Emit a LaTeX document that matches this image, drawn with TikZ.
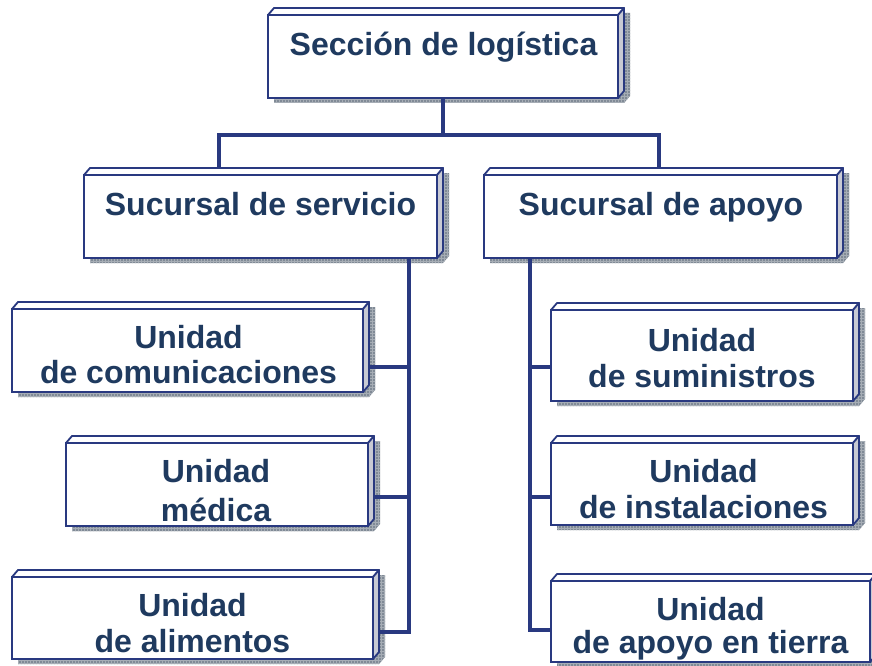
\documentclass[tikz,border=0pt]{standalone}
\usepackage{fontspec}
\setmainfont{Liberation Sans}
\usetikzlibrary{calc,patterns}
\definecolor{navy}{RGB}{41,57,128}
\definecolor{txtc}{RGB}{31,58,95}
\definecolor{sidec}{RGB}{200,202,212}
\definecolor{shadc}{RGB}{128,138,150}
\pgfdeclarelayer{bg}
\pgfdeclarelayer{mid}
\pgfsetlayers{bg,mid,main}
\tikzset{
  conn/.style={draw=navy, line width=4pt},
  frontbox/.style={draw=navy, fill=white, line width=1.8pt, rectangle, inner sep=0pt},
  facebox/.style={draw=navy, line width=1.8pt, line join=round},
  txt/.style={font=\fontsize{32}{37}\selectfont\bfseries, text=txtc, inner sep=0pt, anchor=base},
}
\newcommand\cubebox[5]{%
  \begin{pgfonlayer}{bg}
    \fill[shadc] ({#2+6},{#3+5}) -- ({#2+12},{#3-2}) -- ({#4+12},{#3-2}) -- ({#4+12},{#5-2}) -- ({#4+6},{#5+5}) -- ({#2+6},{#5+5}) -- cycle;
    \fill[pattern=grid, pattern color=white!30!shadc] ({#2+6},{#3+5}) -- ({#2+12},{#3-2}) -- ({#4+12},{#3-2}) -- ({#4+12},{#5-2}) -- ({#4+6},{#5+5}) -- ({#2+6},{#5+5}) -- cycle;
  \end{pgfonlayer}
  \filldraw[facebox, fill=white] (#2,#3) -- ({#2+6},{#3-7}) -- ({#4+6},{#3-7}) -- (#4,#3) -- cycle;
  \filldraw[facebox, fill=sidec] (#4,#3) -- ({#4+6},{#3-7}) -- ({#4+6},{#5-7}) -- (#4,#5) -- cycle;
  \pgfmathsetmacro\bw{#4-#2}%
  \pgfmathsetmacro\bh{#5-#3}%
  \node[frontbox, minimum width=\bw pt, minimum height=\bh pt] (#1) at ({(#2+#4)/2},{(#3+#5)/2}) {};
}
\begin{document}
\begin{tikzpicture}[x=1pt, y=-1pt]
\useasboundingbox (0,0) rectangle (872,666);
\begin{pgfonlayer}{bg}
\fill[white] (0,0) rectangle (872,666);
\end{pgfonlayer}

\cubebox{top}{268}{15}{618}{98}
\cubebox{serv}{84}{175}{437}{258}
\cubebox{apoy}{484}{175}{837}{258}
\cubebox{comu}{12}{309}{363}{392}
\cubebox{medi}{66}{443}{368}{526}
\cubebox{alim}{12}{577}{373}{659}
\cubebox{sumi}{551}{310}{853}{401}
\cubebox{inst}{551}{443}{853}{525}
\cubebox{tier}{551}{581}{870}{662}

\node[txt] (top-t) at (443.5,56) {Sección de logística};
\node[txt] (serv-t) at (260.5,215) {Sucursal de servicio};
\node[txt] (apoy-t) at (661,215) {Sucursal de apoyo};
\node[txt] (comu-a) at (188.5,348) {Unidad};
\node[txt] (comu-b) at (188.5,383) {de comunicaciones};
\node[txt] (medi-a) at (216,482) {Unidad};
\node[txt] (medi-b) at (216,521) {médica};
\node[txt] (alim-a) at (192.5,616) {Unidad};
\node[txt] (alim-b) at (192.5,652) {de alimentos};
\node[txt] (sumi-a) at (702,351) {Unidad};
\node[txt] (sumi-b) at (702,387) {de suministros};
\node[txt] (inst-a) at (703.5,482) {Unidad};
\node[txt] (inst-b) at (703.5,518) {de instalaciones};
\node[txt] (tier-a) at (710.5,620) {Unidad};
\node[txt] (tier-b) at (710.5,653) {de apoyo en tierra};

\coordinate (bus) at (443,135);
\coordinate (lx) at (409,632);
\coordinate (rx) at (530,630);

\begin{pgfonlayer}{mid}
  \draw[conn] (top.south) -- (top.south |- bus);
  \draw[conn] ([xshift=-41.5pt,yshift=7pt]serv.north) |- (bus) -| ([xshift=-1.5pt,yshift=7pt]apoy.north);
  \draw[conn] (serv.south -| lx) -- (lx) -- (lx -| alim.east);
  \draw[conn] ([yshift=-16.5pt]comu.east) -- ([yshift=-16.5pt]comu.east -| lx);
  \draw[conn] ([yshift=-12.5pt]medi.east) -- ([yshift=-12.5pt]medi.east -| lx);
  \draw[conn] (apoy.south -| rx) -- (rx) -- (rx -| tier.west);
  \draw[conn] ([yshift=-11.5pt]sumi.west) -- ([yshift=-11.5pt]sumi.west -| rx);
  \draw[conn] ([yshift=-13pt]inst.west) -- ([yshift=-13pt]inst.west -| rx);
\end{pgfonlayer}
\end{tikzpicture}
\end{document}
